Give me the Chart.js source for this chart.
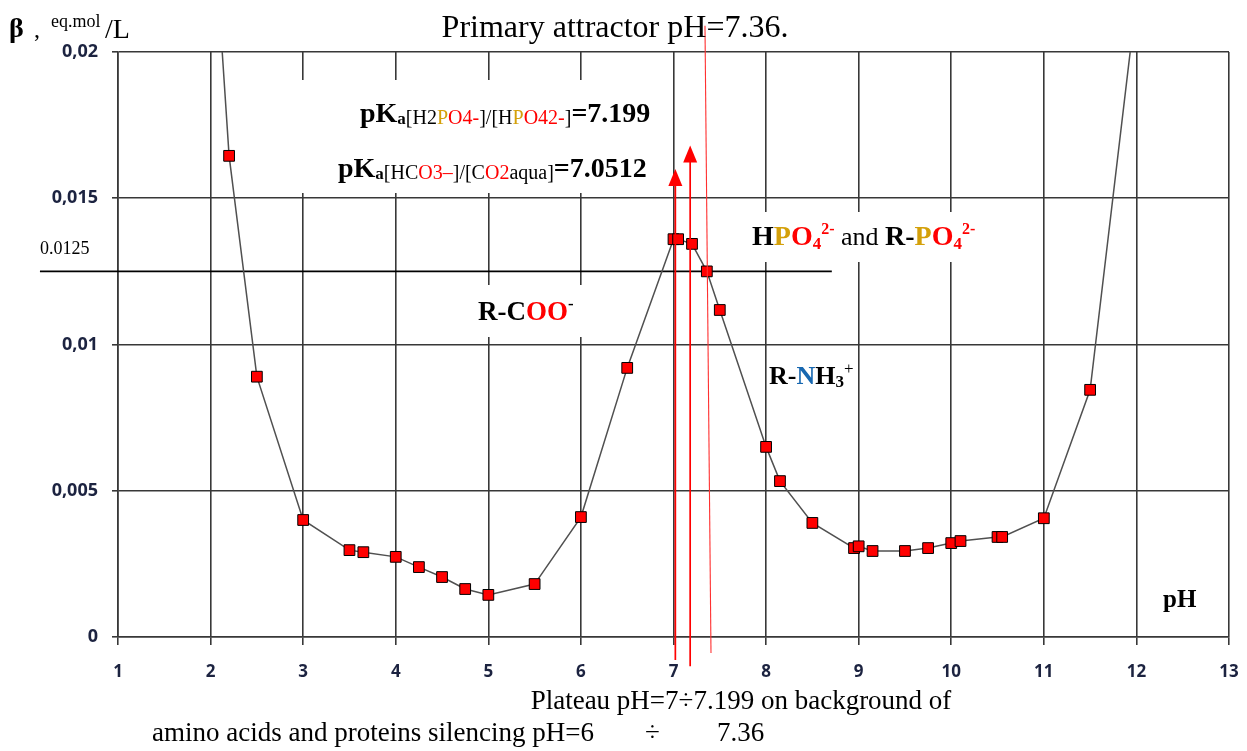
<!DOCTYPE html>
<html>
<head>
<meta charset="utf-8">
<script src="https://cdn.jsdelivr.net/npm/chart.js@4.4.1/dist/chart.umd.min.js"></script>
<style>
html,body{margin:0;padding:0;background:#fff;}
#wrap{width:1247px;height:751px;position:relative;}
</style>
</head>
<body>
<div id="wrap"><canvas id="c" width="1247" height="751"></canvas></div>
<script>
// ---- data ----
const phValues = [2.0, 2.2, 2.5, 3.0, 3.5, 3.65, 4.0, 4.25, 4.5, 4.75, 5.0, 5.5, 6.0, 6.5, 7.0, 7.05, 7.2, 7.36, 7.5, 8.0, 8.15, 8.5, 8.95, 9.0, 9.15, 9.5, 9.75, 10.0, 10.1, 10.5, 10.55, 11.0, 11.5, 12.0];
const betaValues = [0.026, 0.01645, 0.0089, 0.0040, 0.00297, 0.0029, 0.00274, 0.00239, 0.00205, 0.00164, 0.00144, 0.00181, 0.0041, 0.0092, 0.0136, 0.0136, 0.01344, 0.0125, 0.01118, 0.0065, 0.00533, 0.0039, 0.00304, 0.0031, 0.00294, 0.00294, 0.00304, 0.00321, 0.00328, 0.00342, 0.00342, 0.00406, 0.00845, 0.0218];
const xTicks = [1,2,3,4,5,6,7,8,9,10,11,12,13];
const yTicks = [0, 0.005, 0.01, 0.015, 0.02];
const yTickLabels = ["0", "0,005", "0,01", "0,015", "0,02"];
const levelValue = 0.0125;            // horizontal reference line
const levelRange = [0.157, 8.71];     // pH extent of the reference line
const arrowPH = [7.02, 7.18];         // red arrows (pKa markers)
const arrowTop = [0.016, 0.0168];
const arrowBottom = [-0.00079, -0.001];
const attractorLine = {x0: 7.34, y0: 0.0209, x1: 7.405, y1: -0.00055};

const SERIF = '"Liberation Serif","Times New Roman",serif';
const GOLD = '#d4a00a', RED = '#ff0000', BLUE = '#1767b0';

function rich(ctx, x, y, segs){
  for (const s of segs){
    ctx.font = s.f; ctx.fillStyle = s.c || '#000';
    ctx.fillText(s.t, x, y + (s.dy||0));
    x += ctx.measureText(s.t).width;
  }
  return x;
}

const annot = {
  id: 'annot',
  beforeDraw(chart){
    const ctx = chart.ctx; ctx.save(); ctx.fillStyle = '#fff';
    ctx.fillRect(0,0,chart.width,chart.height); ctx.restore();
  },
  beforeDatasetsDraw(chart){
    const ctx = chart.ctx, xs = chart.scales.x, ys = chart.scales.y;
    ctx.save();
    ctx.fillStyle = '#fff';
    ctx.fillRect(235, 80, 430, 113);   // pKa text box
    ctx.fillRect(742, 212, 245, 50);   // HPO4 label box
    ctx.fillRect(465, 285, 130, 52);   // R-COO label box
    // horizontal reference line
    ctx.strokeStyle = '#000'; ctx.lineWidth = 1.6;
    const yl = ys.getPixelForValue(levelValue);
    ctx.beginPath();
    ctx.moveTo(xs.getPixelForValue(levelRange[0]), yl);
    ctx.lineTo(xs.getPixelForValue(levelRange[1]), yl);
    ctx.stroke();
    ctx.restore();
  },
  afterDatasetsDraw(chart){
    const ctx = chart.ctx, xs = chart.scales.x, ys = chart.scales.y;
    ctx.save();
    // red arrows
    ctx.strokeStyle = RED; ctx.fillStyle = RED; ctx.lineWidth = 1.7;
    arrowPH.forEach((p,i)=>{
      const x = xs.getPixelForValue(p);
      const yt = ys.getPixelForValue(arrowTop[i]);
      const yb = ys.getPixelForValue(arrowBottom[i]);
      ctx.beginPath(); ctx.moveTo(x, yb); ctx.lineTo(x, yt+12); ctx.stroke();
      ctx.beginPath(); ctx.moveTo(x, yt); ctx.lineTo(x-7, yt+17); ctx.lineTo(x+7, yt+17); ctx.closePath(); ctx.fill();
    });
    ctx.lineWidth = 1.1; ctx.strokeStyle = '#ff3030';
    ctx.beginPath();
    ctx.moveTo(xs.getPixelForValue(attractorLine.x0), ys.getPixelForValue(attractorLine.y0));
    ctx.lineTo(xs.getPixelForValue(attractorLine.x1), ys.getPixelForValue(attractorLine.y1));
    ctx.stroke();

    ctx.textBaseline = 'alphabetic'; ctx.textAlign = 'left';
    const B28 = 'bold 28px '+SERIF, B17 = 'bold 17px '+SERIF, N20 = '20px '+SERIF;
    // pKa lines
    rich(ctx, 360, 122, [
      {t:'pK', f:B28}, {t:'a', f:B17, dy:2}, {t:'[H2', f:N20, dy:2},
      {t:'P', f:N20, c:GOLD, dy:2}, {t:'O4-', f:N20, c:RED, dy:2},
      {t:']/[H', f:N20, dy:2}, {t:'P', f:N20, c:GOLD, dy:2}, {t:'O42-', f:N20, c:RED, dy:2},
      {t:']', f:N20, dy:2}, {t:'=7.199', f:B28}
    ]);
    rich(ctx, 338, 177, [
      {t:'pK', f:B28}, {t:'a', f:B17, dy:2}, {t:'[HC', f:N20, dy:2},
      {t:'O3\u2013', f:N20, c:RED, dy:2}, {t:']/[C', f:N20, dy:2},
      {t:'O2', f:N20, c:RED, dy:2}, {t:'aqua]', f:N20, dy:2}, {t:'=7.0512', f:B28}
    ]);
    // HPO4 label
    const B16 = 'bold 16px '+SERIF;
    rich(ctx, 752, 245, [
      {t:'H', f:B28}, {t:'P', f:B28, c:GOLD}, {t:'O', f:B28, c:RED},
      {t:'4', f:B17, c:RED, dy:4}, {t:'2-', f:B16, c:RED, dy:-11},
      {t:' and ', f:'26px '+SERIF}, {t:'R-', f:B28}, {t:'P', f:B28, c:GOLD},
      {t:'O', f:B28, c:RED}, {t:'4', f:B17, c:RED, dy:4}, {t:'2-', f:B16, c:RED, dy:-11}
    ]);
    // R-COO-
    rich(ctx, 478, 320, [
      {t:'R-C', f:'bold 27px '+SERIF}, {t:'OO', f:'bold 27px '+SERIF, c:RED}, {t:'-', f:B17, dy:-11}
    ]);
    // R-NH3+
    rich(ctx, 769, 384, [
      {t:'R-', f:'bold 26px '+SERIF}, {t:'N', f:'bold 26px '+SERIF, c:BLUE},
      {t:'H', f:'bold 26px '+SERIF}, {t:'3', f:B17, dy:3}, {t:'+', f:'17px '+SERIF, dy:-10}
    ]);
    // pH axis label
    rich(ctx, 1163, 607, [{t:'pH', f:'bold 25px '+SERIF}]);
    // 0.0125 label
    rich(ctx, 40, 254, [{t:'0.0125', f:'18px '+SERIF}]);
    // y axis title
    rich(ctx, 9, 37, [{t:'\u03b2', f:'bold 28px '+SERIF}]);
    rich(ctx, 34, 37, [{t:',', f:'24px '+SERIF}]);
    rich(ctx, 51, 27, [{t:'eq.mol', f:'18px '+SERIF}]);
    rich(ctx, 105, 38, [{t:'/L', f:'28px '+SERIF}]);
    // title
    ctx.font = '32px '+SERIF; ctx.fillStyle = '#000'; ctx.textAlign = 'center';
    ctx.fillText('Primary attractor pH=7.36.', 615, 37);
    // bottom text
    ctx.font = '27px '+SERIF;
    ctx.fillText('Plateau pH=7\u00f77.199 on background of', 741, 709);
    ctx.textAlign = 'left';
    ctx.fillText('amino acids and proteins silencing pH=6', 152, 741);
    ctx.fillText('\u00f7', 645, 741);
    ctx.fillText('7.36', 717, 741);
    ctx.restore();
  }
};

const TICKFONT = {family: '"Open Sans","Noto Sans",sans-serif', size: 17, weight: 'bold'};
const GRID = '#383838';

new Chart(document.getElementById('c'), {
  type: 'line',
  data: {
    datasets: [{
      data: phValues.map((x,i)=>({x, y: betaValues[i]})),
      borderColor: '#505050', borderWidth: 1.5,
      pointStyle: 'rect',
      pointRadius: c => (c.raw && c.raw.y > 0.02) ? 0 : 7.6,
      pointHoverRadius: 7.6,
      pointBackgroundColor: '#ff0000', pointBorderColor: '#000', pointBorderWidth: 1,
      tension: 0, fill: false
    }]
  },
  options: {
    responsive: false, animation: false,
    layout: {padding: {left: 0, right: 18, top: 52, bottom: 0}},
    plugins: {legend: {display: false}, tooltip: {enabled: false}, title: {display: false}},
    scales: {
      x: {
        type: 'linear', min: 1, max: 13,
        afterBuildTicks: s => { s.ticks = xTicks.map(v=>({value:v})); },
        afterFit: s => { s.height = 114; s.paddingRight = 0; s.paddingLeft = 0; },
        grid: {color: GRID, lineWidth: 1.6, tickLength: 8, drawTicks: true},
        border: {color: GRID, width: 1.6},
        ticks: {font: TICKFONT, color: '#1c2340', padding: 17, maxRotation: 0}
      },
      y: {
        min: 0, max: 0.02,
        afterBuildTicks: s => { s.ticks = yTicks.map(v=>({value:v})); },
        afterFit: s => { s.width = 118; s.paddingTop = 0; s.paddingBottom = 0; },
        grid: {color: GRID, lineWidth: 1.6, tickLength: 6},
        border: {color: GRID, width: 1.6},
        ticks: {font: {family: '"Open Sans","Noto Sans",sans-serif', size: 18, weight: 'bold'}, color: '#1c2340', padding: 14,
          callback: (v) => { const i = yTicks.indexOf(v); return i >= 0 ? yTickLabels[i] : ''; }}
      }
    }
  },
  plugins: [annot]
});
</script>
</body>
</html>
